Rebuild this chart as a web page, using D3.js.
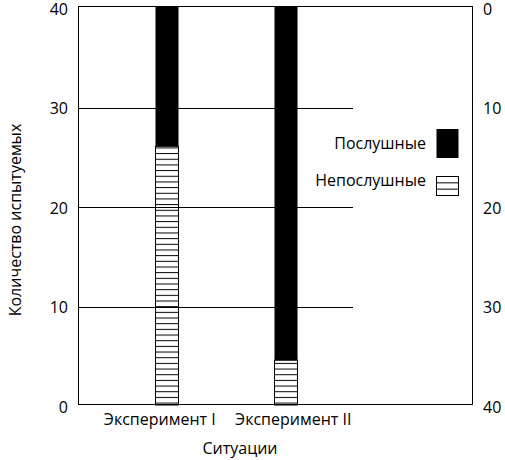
<!DOCTYPE html>
<html>
<head>
<meta charset="utf-8">
<script src="https://cdn.jsdelivr.net/npm/d3@7"></script>
<style>
    body { margin: 0; background: #fff; }
    text { font-family: "Open Sans", "Noto Sans", sans-serif; fill: #000; }
</style>
</head>
<body>
<div id="chart"></div>
<script>
// data
var categories = ["Эксперимент I", "Эксперимент II"];
var disobedient = [26, 4.5];   // Непослушные (hatched, from the bottom)
var obedient = [14, 35.5];     // Послушные (black, stacked on top)
var seriesNames = ["Послушные", "Непослушные"];
var leftTicks = [0, 10, 20, 30, 40];
var rightTicks = [0, 10, 20, 30, 40];
var xTitle = "Ситуации";
var yTitle = "Количество испытуемых";

var width = 505, height = 460;
var plot = { left: 78, right: 472, top: 7, bottom: 405 };

var svg = d3.select("#chart").append("svg")
    .attr("width", width)
    .attr("height", height);

// hatch pattern
var defs = svg.append("defs");
defs.append("pattern")
    .attr("id", "hatch")
    .attr("patternUnits", "userSpaceOnUse")
    .attr("width", 30)
    .attr("height", 5.67)
    .append("line")
    .attr("x1", 0).attr("x2", 30)
    .attr("y1", 0.5).attr("y2", 0.5)
    .attr("stroke", "#000")
    .attr("stroke-width", 1);

// scales
var y = d3.scaleLinear()
    .domain([0, 40])
    .range([plot.bottom, plot.top]);
var yRight = d3.scaleLinear()
    .domain([0, 40])
    .range([plot.top, plot.bottom]);
var x = d3.scaleBand()
    .domain(categories)
    .range([107.5, 344.5]);
var barWidth = 23;

var rows = categories.map(function(c, i) {
    return { key: c, "Непослушные": disobedient[i], "Послушные": obedient[i] };
});
var stack = d3.stack().keys(["Непослушные", "Послушные"]);
var stacked = stack(rows);

// grid lines (stop short of the legend)
svg.append("g")
    .selectAll("line")
    .data(leftTicks.filter(function(d) { return d > 0 && d < 40; }))
    .enter()
    .append("line")
    .attr("x1", plot.left)
    .attr("x2", 353)
    .attr("y1", function(d) { return Math.round(y(d)) + 1.5; })
    .attr("y2", function(d) { return Math.round(y(d)) + 1.5; })
    .attr("stroke", "#000")
    .attr("stroke-width", 1);

// bars
var layer = svg.append("g").selectAll("g")
    .data(stacked)
    .enter()
    .append("g")
    .attr("fill", function(d) { return d.key === "Послушные" ? "#000" : "url(#hatch)"; });

layer.selectAll("rect")
    .data(function(d) { return d.map(function(v) { v.series = d.key; return v; }); })
    .enter()
    .append("rect")
    .attr("x", function(d) { return Math.round(x(d.data.key) + x.bandwidth() / 2 - barWidth / 2) + 0.5; })
    .attr("width", barWidth)
    .attr("y", function(d) { return y(d[1]); })
    .attr("height", function(d) { return y(d[0]) - y(d[1]); })
    .attr("stroke", function(d) { return d.series === "Послушные" ? "none" : "#000"; })
    .attr("stroke-width", 1);

// frame
svg.append("rect")
    .attr("x", plot.left + 0.5)
    .attr("y", plot.top - 0.5)
    .attr("width", plot.right - plot.left)
    .attr("height", plot.bottom - plot.top)
    .attr("fill", "none")
    .attr("stroke", "#000")
    .attr("stroke-width", 1);

// axes
var yAxis = d3.axisLeft(y).tickValues(leftTicks).tickSize(0).tickPadding(10);
var yAxisRight = d3.axisRight(yRight).tickValues(rightTicks).tickSize(0).tickPadding(11);

svg.append("g")
    .attr("class", "y-axis axis")
    .attr("transform", "translate(" + plot.left + ",0)")
    .call(yAxis);
svg.append("g")
    .attr("class", "y-axis-right axis")
    .attr("transform", "translate(" + plot.right + ",0)")
    .call(yAxisRight);
svg.selectAll(".axis .domain").remove();
svg.selectAll(".axis text")
    .attr("dy", "0.45em")
    .style("font-size", "16px")
    .style("font-family", "'Open Sans', sans-serif");

// category labels
var labelShift = [-7, 8];
svg.append("g")
    .selectAll("text")
    .data(categories)
    .enter()
    .append("text")
    .attr("x", function(d, i) { return x(d) + x.bandwidth() / 2 + labelShift[i]; })
    .attr("y", 425)
    .attr("text-anchor", "middle")
    .style("font-size", "16px")
    .text(function(d) { return d; });

// axis titles
svg.append("text")
    .attr("x", 240)
    .attr("y", 454)
    .attr("text-anchor", "middle")
    .style("font-size", "16px")
    .text(xTitle);

svg.append("text")
    .attr("transform", "translate(21,220) rotate(-90)")
    .attr("text-anchor", "middle")
    .style("font-size", "16px")
    .text(yTitle);

// legend
var legend = svg.append("g").selectAll("g")
    .data(seriesNames)
    .enter()
    .append("g");

legend.append("text")
    .attr("x", 426)
    .attr("y", function(d, i) { return i === 0 ? 149 : 186; })
    .attr("text-anchor", "end")
    .style("font-size", "16px")
    .text(function(d) { return d; });

legend.append("rect")
    .attr("x", 436.5)
    .attr("y", function(d, i) { return i === 0 ? 129 : 176.5; })
    .attr("width", 22)
    .attr("height", function(d, i) { return i === 0 ? 29 : 19; })
    .attr("fill", function(d, i) { return i === 0 ? "#000" : "#fff"; })
    .attr("stroke", function(d, i) { return i === 0 ? "none" : "#000"; });

// inner lines of the hatched legend key
svg.append("g")
    .selectAll("line")
    .data([1, 2])
    .enter()
    .append("line")
    .attr("x1", 436.5)
    .attr("x2", 458.5)
    .attr("y1", function(d) { return 176.5 + d * 6.33; })
    .attr("y2", function(d) { return 176.5 + d * 6.33; })
    .attr("stroke", "#000");
</script>
</body>
</html>
